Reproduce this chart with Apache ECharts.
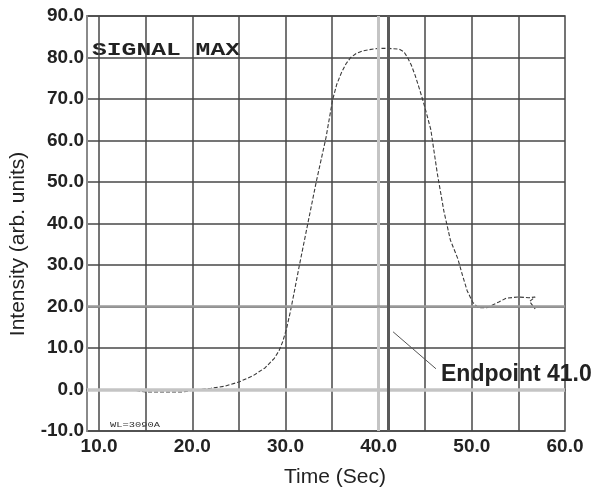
<!DOCTYPE html>
<html>
<head>
<meta charset="utf-8">
<script src="https://cdn.jsdelivr.net/npm/echarts@6/dist/echarts.min.js"></script>
<style>
html,body{margin:0;padding:0;background:#fff;}
#chart{width:604px;height:488px;}
</style>
</head>
<body>
<div id="chart"></div>
<script>
// ---- data ----
const timeSec   = [11.4, 13.8, 15.0, 19.0, 20.0, 22.0, 23.5, 25.0, 26.5, 27.8, 28.8, 29.3, 29.7, 30.1, 30.5, 30.9, 31.5, 32.4, 33.3, 34.35, 35.06, 35.5, 36.0, 36.5, 37.0, 37.6, 38.3, 39.0, 40.0, 41.0, 42.2, 42.7, 43.1, 43.5, 43.9, 44.3, 44.8, 45.2, 45.6, 46.3, 47.0, 47.7, 48.5, 49.0, 49.5, 50.1, 50.7, 51.6, 52.9, 53.7, 55.0, 56.1, 56.8, 56.2, 56.8];
const intensity = [0.0, -0.2, -0.6, -0.6, -0.2, 0.3, 0.8, 1.8, 3.3, 5.2, 7.5, 9.3, 11.5, 14.5, 18.5, 23.0, 30.0, 40.0, 50.0, 60.7, 69.8, 73.5, 76.3, 78.5, 80.0, 81.0, 81.6, 81.9, 82.2, 82.2, 82.0, 81.4, 80.0, 78.2, 75.8, 73.0, 69.3, 66.0, 62.6, 52.0, 43.0, 36.0, 31.5, 27.5, 23.8, 21.0, 19.7, 19.7, 21.1, 22.0, 22.3, 22.1, 22.3, 21.2, 19.4];
const xTickLabels = [10, 20, 30, 40, 50, 60];
const xGridDark   = [10, 15, 20, 25, 30, 35, 45, 50, 55];
const xGridLight  = [40];
const yGridLight  = [0];
const yGridMid    = [20];
const endpointTime = 41.0;
const endpointLabel = 'Endpoint 41.0';
const leaderStart = [41.55, 13.9];
const leaderEnd   = [46.15, 5.0];
const xMin = 8.7, xMax = 60, yMin = -10, yMax = 90, yStep = 10;

const chart = echarts.init(document.getElementById('chart'), null, {renderer: 'canvas'});
const labelFont = {fontFamily: 'Liberation Sans, Arial, sans-serif', fontWeight: 'bold', fontSize: 19, color: '#222'};
const gridDark = '#474747';

const option = {
  backgroundColor: '#fff',
  animation: false,
  grid: {left: 87, right: 39, top: 16, bottom: 57, show: true, borderColor: gridDark, borderWidth: 1.5},
  xAxis: {
    type: 'value', min: xMin, max: xMax,
    axisLine: {show: true, lineStyle: {color: gridDark, width: 1.5}},
    axisTick: {show: false},
    splitLine: {show: false},
    axisLabel: Object.assign({customValues: xTickLabels, margin: 6, formatter: v => v.toFixed(1)}, labelFont)
  },
  yAxis: {
    type: 'value', min: yMin, max: yMax, interval: yStep,
    axisLine: {show: true, lineStyle: {color: '#8a8a8a', width: 2}},
    axisTick: {show: false},
    splitLine: {show: true, lineStyle: {color: gridDark, width: 1.5}},
    axisLabel: Object.assign({margin: 3, formatter: v => v.toFixed(1)}, labelFont)
  },
  graphic: [
    {type: 'text', left: 92, top: 41, scaleX: 1.37, style: {text: 'SIGNAL MAX', font: 'bold 18px "Liberation Mono", "DejaVu Sans Mono", monospace', fill: '#222'}},
    {type: 'text', left: 110, top: 421, scaleX: 1.3, style: {text: 'WL=3090A', font: '8px "Liberation Mono", monospace', fill: '#333'}},
    {type: 'text', left: 441, top: 363, style: {text: endpointLabel, font: 'bold 23px "Liberation Sans", Arial, sans-serif', fill: '#222'}},
    {type: 'text', left: 284, top: 467, style: {text: 'Time (Sec)', font: '21px "Liberation Sans", Arial, sans-serif', fill: '#222'}},
    {type: 'text', x: 8, y: 244, rotation: Math.PI / 2, style: {text: 'Intensity (arb. units)', font: '21px "Liberation Sans", Arial, sans-serif', fill: '#222', align: 'center', verticalAlign: 'top'}}
  ],
  series: [
    {
      type: 'line', data: [], silent: true, z: 1,
      markLine: {
        silent: true, symbol: 'none', animation: false, label: {show: false},
        data: [
          ...xGridDark.map(v => ({xAxis: v, lineStyle: {color: gridDark, width: 1.5, type: 'solid'}})),
          ...xGridLight.map(v => ({xAxis: v, lineStyle: {color: '#c4c4c4', width: 3, type: 'solid'}})),
          ...yGridLight.map(v => ({yAxis: v, lineStyle: {color: '#c4c4c4', width: 3.5, type: 'solid'}})),
          ...yGridMid.map(v => ({yAxis: v, lineStyle: {color: '#9a9a9a', width: 2.5, type: 'solid'}})),
          {xAxis: endpointTime, lineStyle: {color: '#5a5a5a', width: 3, type: 'solid'}},
          [{coord: leaderStart, lineStyle: {color: '#555', width: 1, type: 'solid'}}, {coord: leaderEnd}]
        ]
      }
    },
    {
      type: 'line', z: 3,
      data: timeSec.map((t, i) => [t, intensity[i]]),
      showSymbol: false, smooth: false,
      lineStyle: {color: '#3a3a3a', width: 1.1, type: [4, 2]}
    }
  ]
};
chart.setOption(option);
</script>
</body>
</html>
